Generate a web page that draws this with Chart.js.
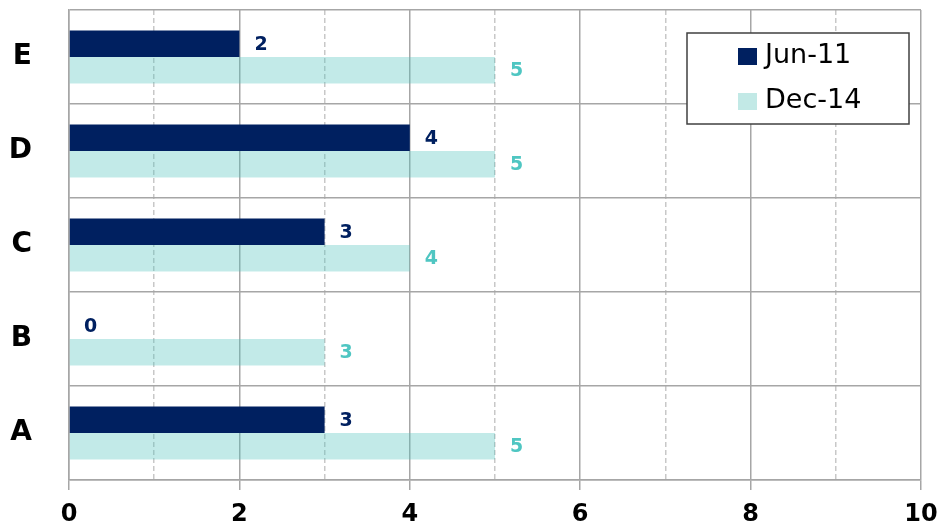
<!DOCTYPE html>
<html>
<head>
<meta charset="utf-8">
<script src="https://cdn.jsdelivr.net/npm/chart.js@4/dist/chart.umd.min.js"></script>
<style>
  html, body { margin: 0; padding: 0; background: #ffffff; }
  #wrap { width: 940px; height: 528px; }
</style>
</head>
<body>
<div id="wrap"><canvas id="c" width="940" height="528"></canvas></div>
<script>
// Categories, top to bottom
const categories = ['E', 'D', 'C', 'B', 'A'];
// Series values
const jun11 = [2, 4, 3, 0, 3];
const dec14 = [5, 5, 4, 3, 5];
const seriesNames = ['Jun-11', 'Dec-14'];
// Value axis range and steps
const xMin = 0;
const xMax = 10;
const xMajorStep = 2;
const xMinorStep = 1;

const FONT = '"DejaVu Sans", Verdana, sans-serif';
const NAVY = '#002060';
const TEAL_FILL = 'rgba(80, 196, 190, 0.35)';
const TEAL_SWATCH = '#c2e9e6';
const TEAL_TEXT = '#4fc6c2';
const GRID = '#a6a6a6';
const GRID_MINOR = '#c8c8c8';

// Value labels at the end of each bar
const valueLabels = {
  id: 'valueLabels',
  afterDatasetsDraw(chart) {
    const ctx = chart.ctx;
    chart.data.datasets.forEach((ds, i) => {
      const meta = chart.getDatasetMeta(i);
      meta.data.forEach((bar, j) => {
        ctx.save();
        ctx.font = 'bold 19px ' + FONT;
        ctx.fillStyle = ds.labelColor;
        ctx.textAlign = 'left';
        ctx.textBaseline = 'middle';
        ctx.fillText(String(ds.data[j]), bar.x + 15, bar.y + 1);
        ctx.restore();
      });
    });
  }
};

// Boxed legend inside the top-right of the plot
const boxLegend = {
  id: 'boxLegend',
  afterDraw(chart) {
    const ctx = chart.ctx;
    const area = chart.chartArea;
    const w = 222, h = 91;
    const x = area.right - 12 - w;
    const y = area.top + 23;
    ctx.save();
    ctx.fillStyle = '#ffffff';
    ctx.fillRect(x, y, w, h);
    ctx.strokeStyle = '#404040';
    ctx.lineWidth = 1.5;
    ctx.strokeRect(x, y, w, h);
    ctx.font = '27px ' + FONT;
    ctx.textBaseline = 'middle';
    ctx.textAlign = 'left';
    chart.data.datasets.forEach((ds, i) => {
      const cy = y + 23 + i * 45;
      ctx.fillStyle = ds.swatch;
      ctx.fillRect(x + 51, cy - 8, 19, 17);
      ctx.fillStyle = '#000000';
      ctx.fillText(ds.label, x + 78, cy);
    });
    ctx.restore();
  }
};

new Chart(document.getElementById('c'), {
  type: 'bar',
  data: {
    labels: categories,
    datasets: [
      {
        label: seriesNames[0],
        data: jun11,
        backgroundColor: NAVY,
        swatch: NAVY,
        labelColor: NAVY,
        barPercentage: 1.0,
        categoryPercentage: 0.565
      },
      {
        label: seriesNames[1],
        data: dec14,
        backgroundColor: TEAL_FILL,
        swatch: TEAL_SWATCH,
        labelColor: TEAL_TEXT,
        barPercentage: 1.0,
        categoryPercentage: 0.565
      }
    ]
  },
  options: {
    indexAxis: 'y',
    responsive: false,
    animation: false,
    layout: { padding: { top: 10, right: 0, left: 0, bottom: 0 } },
    plugins: {
      legend: { display: false },
      tooltip: { enabled: false }
    },
    scales: {
      x: {
        type: 'linear',
        position: 'bottom',
        min: xMin,
        max: xMax,
        ticks: {
          stepSize: xMajorStep,
          color: '#000000',
          font: { family: FONT, size: 24, weight: 'bold' },
          padding: 10,
          maxRotation: 0
        },
        grid: {
          color: GRID,
          lineWidth: 1.5,
          tickLength: 10,
          tickColor: GRID
        },
        border: { color: GRID, width: 1.5 },
        afterFit(scale) {
          scale.height = 48;
          scale.paddingLeft = 0;
          scale.paddingRight = 19;
        }
      },
      xMinor: {
        type: 'linear',
        position: 'bottom',
        min: xMin,
        max: xMax,
        ticks: { display: false, stepSize: xMinorStep },
        grid: {
          drawTicks: false,
          lineWidth: 1.5,
          color: (c) => (c.tick && c.tick.value % 2 === 1) ? GRID_MINOR : 'rgba(0,0,0,0)'
        },
        border: { display: false, dash: [5, 3] },
        afterFit(scale) {
          scale.height = 0;
          scale.paddingLeft = 0;
          scale.paddingRight = 0;
        }
      },
      y: {
        type: 'category',
        ticks: {
          color: '#000000',
          font: { family: FONT, size: 28, weight: 'bold' },
          padding: 37
        },
        grid: {
          offset: true,
          drawTicks: false,
          color: GRID,
          lineWidth: 1.5
        },
        border: { color: GRID, width: 1.5 },
        afterFit(scale) {
          scale.width = 69;
          scale.paddingTop = 0;
          scale.paddingBottom = 0;
        }
      }
    }
  },
  plugins: [valueLabels, boxLegend]
});
</script>
</body>
</html>
